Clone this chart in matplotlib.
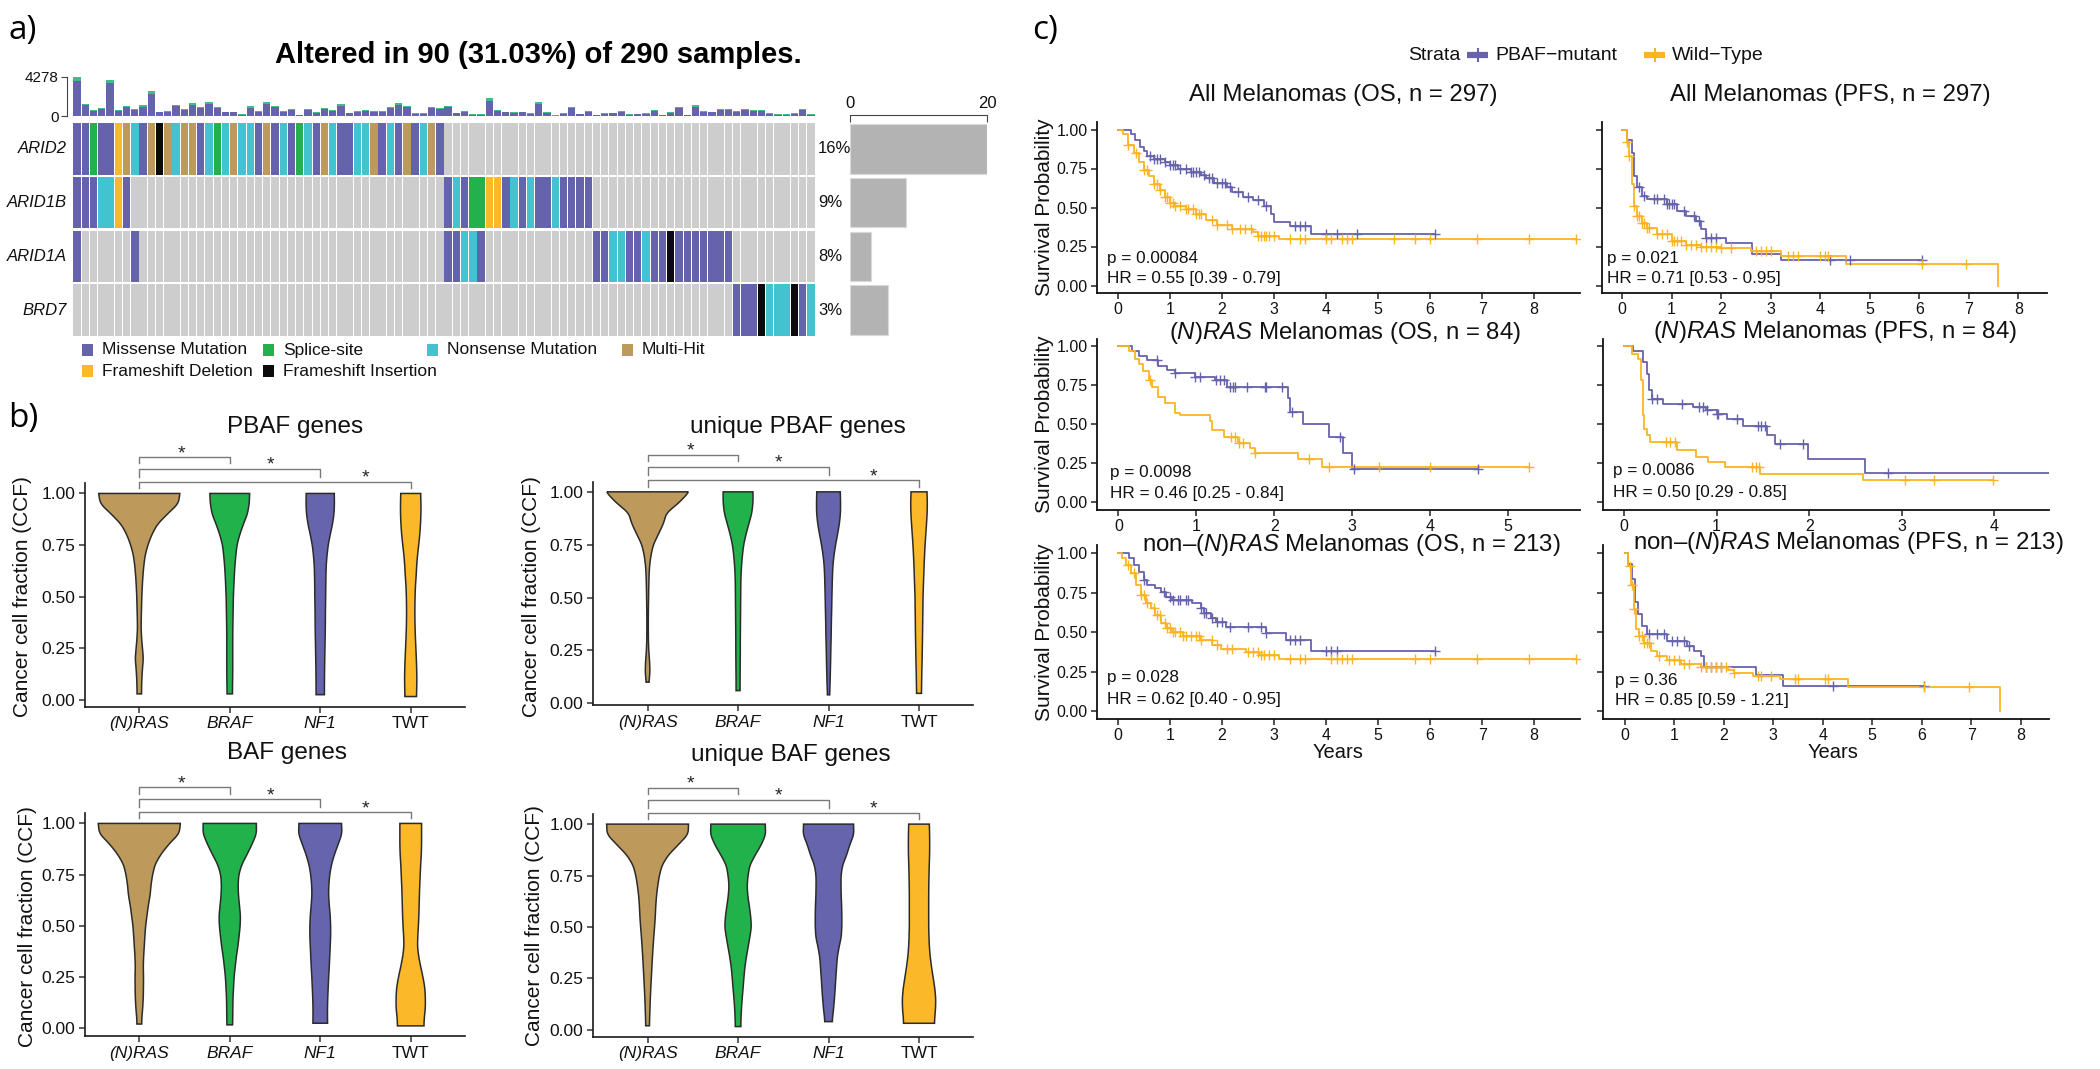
import numpy as np
import matplotlib
matplotlib.use('Agg')
import matplotlib.pyplot as plt
from matplotlib.lines import Line2D
from matplotlib.patches import Rectangle

plt.rcParams['font.family'] = ['Liberation Sans', 'DejaVu Sans']
plt.rcParams['mathtext.fontset'] = 'custom'
plt.rcParams['mathtext.rm'] = 'Liberation Sans'
plt.rcParams['mathtext.it'] = 'Liberation Sans:italic'
plt.rcParams['mathtext.bf'] = 'Liberation Sans:bold'

# ------------------------------------------------------------------ data: panel a
GENES = ['ARID2', 'ARID1B', 'ARID1A', 'BRD7']
GENE_PCT = ['16%', '9%', '8%', '3%']
GENE_BAR = [20, 8.2, 3.0, 5.5]
MUT_ARID2 = "MMSMMDHNMHIHNHHMNSNHNNMHMNMSNMHNMMNNHMNMHMNHM" + "." * 45
MUT_ARID1B = "MMMNNDM" + "." * 38 + "MNMSSDDMNMNMMNMMMM" + "." * 27
MUT_ARID1A = "M......M" + "." * 37 + "MMNNM" + "." * 13 + "MMNNMMNMMIMMMMMMM" + "." * 10
MUT_BRD7 = "." * 80 + "MMMINNNIMN"
MUT_COLORS = {'M': '#6663AD', 'S': '#23B14D', 'N': '#43C2CF', 'H': '#BD9A5C',
              'D': '#FBB829', 'I': '#0B0B0B', '.': '#CDCDCD'}
MUT_LEGEND = [('M', 'Missense Mutation'), ('S', 'Splice-site'), ('N', 'Nonsense Mutation'),
              ('H', 'Multi-Hit'), ('D', 'Frameshift Deletion'), ('I', 'Frameshift Insertion')]
TMB = [4278, 1305, 650, 830, 3990, 650, 1090, 800, 1160, 2720,
       470, 540, 1200, 800, 1380, 940, 1490, 1015, 470, 470,
       220, 1050, 540, 1520, 1090, 510, 725, 110, 800, 435,
       830, 615, 1270, 360, 580, 650, 580, 580, 1015, 1380,
       1090, 325, 325, 1015, 870, 1090, 360, 540, 180, 220,
       1920, 650, 470, 400, 470, 290, 1520, 400, 70, 290,
       940, 250, 540, 145, 290, 360, 510, 220, 250, 290,
       690, 110, 435, 1015, 110, 1160, 580, 470, 760, 725,
       580, 725, 615, 615, 325, 220, 220, 290, 760, 180]
TMB_CAP = [400, 150, 100, 100, 330, 100, 120, 100, 120, 300,
           80, 90, 130, 100, 180, 110, 180, 120, 80, 80,
           60, 120, 90, 180, 120, 80, 100, 50, 100, 80,
           100, 90, 150, 70, 90, 100, 90, 90, 120, 180,
           120, 70, 70, 120, 100, 120, 70, 90, 50, 60,
           250, 100, 80, 80, 80, 60, 200, 80, 40, 60,
           110, 60, 90, 50, 60, 70, 80, 60, 60, 60,
           90, 50, 80, 120, 50, 130, 90, 80, 100, 90,
           90, 90, 90, 90, 70, 60, 60, 60, 100, 50]

# ------------------------------------------------------------------ data: panel b
VIOLIN_GROUPS = ['(N)RAS', 'BRAF', 'NF1', 'TWT']
VIOLIN_COLORS = ['#BD9A5B', '#22B24C', '#6664AD', '#FBB829']
CCF_GRID = [0.00, 0.05, 0.10, 0.15, 0.20, 0.25, 0.30, 0.35, 0.40, 0.45, 0.50,
            0.55, 0.60, 0.65, 0.70, 0.75, 0.80, 0.85, 0.90, 0.95, 1.00]

PBAF_MIN = [0.028, 0.028, 0.024, 0.015]
PBAF_W = [
    [.025, .025, .028, .035, .045, .035, .025, .02, .022, .025, .028, .033, .04, .05, .065, .095, .138, .2, .31, .43, .45],
    [.03, .03, .032, .033, .033, .033, .033, .034, .036, .038, .04, .045, .05, .057, .067, .08, .11, .15, .195, .215, .22],
    [.046, .046, .047, .048, .05, .052, .054, .056, .057, .058, .06, .061, .063, .066, .075, .088, .11, .135, .152, .157, .155],
    [.063, .066, .068, .066, .062, .057, .052, .048, .046, .046, .048, .052, .06, .066, .075, .088, .1, .108, .113, .113, .11]]

UPBAF_MIN = [0.10, 0.06, 0.04, 0.047]
UPBAF_W = [
    [.015, .015, .016, .026, .022, .013, .009, .008, .008, .009, .011, .013, .016, .022, .037, .064, .12, .175, .21, .35, .46],
    [.022, .022, .022, .023, .024, .025, .025, .026, .027, .028, .029, .03, .032, .038, .048, .062, .088, .12, .152, .165, .165],
    [.012, .013, .017, .02, .023, .025, .028, .03, .032, .035, .037, .04, .043, .048, .06, .078, .1, .12, .132, .133, .13],
    [.027, .027, .029, .031, .034, .036, .038, .04, .041, .043, .044, .048, .052, .056, .061, .067, .075, .083, .09, .092, .088]]

BAF_MIN = [0.02, 0.016, 0.024, 0.011]
BAF_W = [
    [.025, .028, .038, .044, .046, .047, .044, .048, .055, .062, .07, .085, .1, .12, .13, .147, .175, .24, .33, .44, .455],
    [.03, .033, .034, .036, .042, .048, .06, .073, .09, .103, .115, .118, .107, .096, .092, .1, .134, .193, .248, .295, .294],
    [.082, .08, .08, .083, .088, .093, .1, .105, .11, .115, .115, .11, .1, .092, .095, .105, .125, .158, .2, .24, .235],
    [.145, .15, .162, .162, .155, .135, .11, .088, .075, .078, .085, .09, .093, .096, .1, .105, .11, .117, .12, .12, .12]]

UBAF_MIN = [0.02, 0.016, 0.04, 0.032]
UBAF_W = [
    [.02, .022, .026, .03, .035, .041, .047, .053, .06, .068, .077, .085, .09, .098, .112, .13, .16, .23, .34, .447, .453],
    [.03, .032, .037, .045, .055, .064, .074, .09, .11, .13, .147, .14, .125, .108, .1, .11, .13, .19, .257, .305, .3],
    [.04, .042, .055, .065, .073, .08, .088, .096, .115, .14, .147, .147, .145, .14, .138, .138, .155, .2, .235, .28, .276],
    [.17, .172, .182, .185, .175, .158, .14, .125, .115, .11, .107, .107, .107, .107, .108, .11, .113, .117, .118, .117, .114]]

SIG_TARGETS = [2, 3, 4]
SIG_LEVELS = [1.176, 1.118, 1.055]
SIG_TIPS = [0.03, 0.04, 0.03]
SIG_STAR_X = [1.47, 2.45, 3.5]

# ------------------------------------------------------------------ data: panel c
MUT_COL = '#6762AC'
WT_COL = '#FCB424'

OS_ALL_MUT_T = [0, 0.24, 0.33, 0.42, 0.5, 0.55, 0.7, 0.9, 1.0, 1.15, 1.4, 1.6, 1.7, 1.85, 2.1, 2.2, 2.4, 2.6, 2.8, 2.95, 3.0, 3.3, 3.7]
OS_ALL_MUT_S = [1.0, 0.97, 0.93, 0.89, 0.86, 0.83, 0.81, 0.79, 0.77, 0.75, 0.73, 0.71, 0.69, 0.66, 0.63, 0.6, 0.57, 0.55, 0.51, 0.46, 0.41, 0.38, 0.33]
OS_ALL_MUT_C = [0.62, 0.7, 0.75, 0.8, 0.9, 1.0, 1.05, 1.1, 1.2, 1.3, 1.4, 1.45, 1.5, 1.55, 1.65, 1.75, 1.8, 1.9, 2.0, 2.05, 2.15, 2.3, 2.5, 2.7, 2.85, 3.4, 3.5, 3.6, 4.0, 4.2, 4.6, 6.1]
OS_ALL_WT_T = [0, 0.1, 0.2, 0.3, 0.4, 0.5, 0.6, 0.7, 0.8, 0.9, 1.0, 1.1, 1.3, 1.5, 1.7, 1.9, 2.2, 2.6, 2.7, 3.1]
OS_ALL_WT_S = [1.0, 0.97, 0.9, 0.85, 0.79, 0.74, 0.7, 0.65, 0.61, 0.57, 0.53, 0.51, 0.49, 0.46, 0.42, 0.39, 0.36, 0.34, 0.32, 0.30]
OS_ALL_WT_C = [0.2, 0.35, 0.5, 0.55, 0.7, 0.75, 0.8, 0.9, 0.95, 1.0, 1.05, 1.1, 1.2, 1.3, 1.35, 1.45, 1.5, 1.55, 1.6, 1.8, 1.9, 2.1, 2.2, 2.35, 2.45, 2.55, 2.7, 2.75, 2.8, 2.85, 2.9, 3.0, 3.3, 3.5, 3.6, 4.0, 4.1, 4.3, 4.4, 4.5, 5.3, 5.7, 6.0, 6.9, 7.9, 8.8]

PFS_ALL_MUT_T = [0, 0.1, 0.2, 0.25, 0.3, 0.4, 0.5, 0.9, 1.1, 1.3, 1.5, 1.6, 1.7, 2.1, 2.62, 3.2]
PFS_ALL_MUT_S = [1.0, 0.93, 0.85, 0.7, 0.63, 0.575, 0.553, 0.52, 0.48, 0.445, 0.413, 0.36, 0.305, 0.273, 0.2, 0.166]
PFS_ALL_MUT_C = [0.35, 0.45, 0.65, 0.7, 0.85, 0.9, 0.95, 1.0, 1.05, 1.25, 1.45, 1.55, 1.7, 1.8, 1.9, 4.2, 4.6, 6.05]
PFS_ALL_WT_T = [0, 0.1, 0.15, 0.2, 0.25, 0.3, 0.4, 0.5, 0.7, 1.0, 1.3, 1.6, 2.0, 2.6, 3.2, 4.52, 7.58]
PFS_ALL_WT_S = [1.0, 0.92, 0.83, 0.65, 0.51, 0.445, 0.40, 0.37, 0.327, 0.284, 0.262, 0.25, 0.24, 0.22, 0.19, 0.138, 0.0]
PFS_ALL_WT_C = [0.1, 0.15, 0.25, 0.3, 0.35, 0.4, 0.45, 0.5, 0.55, 0.7, 0.8, 0.9, 1.0, 1.05, 1.1, 1.2, 1.3, 1.4, 1.5, 1.6, 1.7, 1.8, 1.9, 2.0, 2.2, 2.7, 2.8, 2.9, 3.0, 3.35, 3.45, 3.55, 4.0, 4.1, 4.15, 6.05, 6.95]

OS_NRAS_MUT_T = [0, 0.17, 0.26, 0.36, 0.51, 0.62, 0.73, 0.98, 1.24, 1.39, 2.18, 2.2, 2.37, 2.7, 2.89, 3.0]
OS_NRAS_MUT_S = [1.0, 0.97, 0.94, 0.91, 0.87, 0.85, 0.83, 0.80, 0.78, 0.74, 0.67, 0.58, 0.5, 0.414, 0.315, 0.208]
OS_NRAS_MUT_C = [0.5, 0.73, 0.98, 1.05, 1.25, 1.3, 1.35, 1.43, 1.47, 1.5, 1.65, 1.88, 1.9, 2.1, 2.23, 2.85, 3.02, 4.62]
OS_NRAS_WT_T = [0, 0.14, 0.21, 0.26, 0.32, 0.39, 0.43, 0.51, 0.6, 0.73, 0.79, 1.18, 1.2, 1.35, 1.54, 1.69, 1.75, 2.31, 2.61]
OS_NRAS_WT_S = [1.0, 0.97, 0.92, 0.885, 0.84, 0.78, 0.74, 0.675, 0.632, 0.572, 0.557, 0.52, 0.46, 0.418, 0.375, 0.343, 0.315, 0.272, 0.225]
OS_NRAS_WT_C = [0.4, 1.45, 1.5, 1.55, 1.6, 1.75, 2.45, 2.7, 3.35, 4.0, 5.28]

PFS_NRAS_MUT_T = [0, 0.1, 0.2, 0.25, 0.27, 0.3, 0.42, 0.75, 0.89, 1.0, 1.11, 1.29, 1.54, 1.63, 1.99, 2.6]
PFS_NRAS_MUT_S = [1.0, 0.97, 0.9, 0.82, 0.72, 0.66, 0.63, 0.609, 0.588, 0.566, 0.534, 0.49, 0.427, 0.374, 0.278, 0.186]
PFS_NRAS_MUT_C = [0.3, 0.36, 0.63, 0.81, 0.85, 0.9, 1.0, 1.02, 1.22, 1.45, 1.48, 1.52, 1.68, 1.93, 2.85, 4.7]
PFS_NRAS_WT_T = [0, 0.09, 0.15, 0.18, 0.2, 0.22, 0.245, 0.28, 0.57, 0.78, 0.91, 1.09, 1.47, 2.58]
PFS_NRAS_WT_S = [1.0, 0.95, 0.92, 0.78, 0.56, 0.47, 0.427, 0.385, 0.33, 0.288, 0.256, 0.224, 0.18, 0.139]
PFS_NRAS_WT_C = [0.45, 0.5, 0.55, 1.38, 1.43, 1.46, 3.03, 3.35, 3.99]

OS_NON_MUT_T = [0, 0.21, 0.31, 0.4, 0.5, 0.56, 0.72, 0.82, 0.92, 1.04, 1.43, 1.59, 1.65, 1.78, 1.88, 2.07, 2.84, 3.22, 3.7]
OS_NON_MUT_S = [1.0, 0.968, 0.926, 0.884, 0.83, 0.80, 0.778, 0.757, 0.725, 0.704, 0.683, 0.651, 0.62, 0.588, 0.567, 0.535, 0.493, 0.45, 0.383]
OS_NON_MUT_C = [0.5, 0.88, 1.0, 1.05, 1.15, 1.2, 1.3, 1.35, 1.6, 1.65, 1.7, 1.8, 1.9, 2.0, 2.15, 2.5, 2.75, 2.85, 3.3, 3.4, 3.5, 4.0, 4.1, 4.2, 6.1]
OS_NON_WT_T = [0, 0.08, 0.16, 0.24, 0.34, 0.44, 0.53, 0.63, 0.72, 0.82, 0.92, 1.04, 1.24, 1.59, 1.81, 1.97, 2.46, 2.71, 3.1]
OS_NON_WT_S = [1.0, 0.968, 0.926, 0.873, 0.8, 0.736, 0.683, 0.651, 0.609, 0.556, 0.524, 0.503, 0.476, 0.45, 0.419, 0.391, 0.376, 0.355, 0.328]
OS_NON_WT_C = [0.2, 0.3, 0.45, 0.5, 0.55, 0.7, 0.75, 0.8, 0.9, 0.95, 1.0, 1.05, 1.1, 1.2, 1.25, 1.3, 1.4, 1.5, 1.55, 1.6, 1.8, 1.9, 2.1, 2.2, 2.5, 2.6, 2.7, 2.75, 2.8, 2.9, 3.0, 3.3, 3.5, 3.6, 4.1, 4.2, 4.3, 4.4, 4.5, 5.7, 6.0, 6.9, 7.9, 8.8]

PFS_NON_MUT_T = [0, 0.07, 0.155, 0.22, 0.27, 0.36, 0.46, 0.86, 1.27, 1.4, 1.54, 1.61, 2.65, 3.19]
PFS_NON_MUT_S = [1.0, 0.93, 0.84, 0.69, 0.616, 0.54, 0.486, 0.443, 0.41, 0.378, 0.346, 0.281, 0.227, 0.156]
PFS_NON_MUT_C = [0.5, 0.65, 0.8, 0.95, 1.05, 1.2, 1.3, 1.65, 1.75, 1.85, 1.95, 4.2, 6.05]
PFS_NON_WT_T = [0, 0.07, 0.135, 0.19, 0.24, 0.29, 0.39, 0.53, 0.66, 0.86, 1.13, 1.54, 2.08, 2.2, 2.59, 3.13, 4.51, 7.58]
PFS_NON_WT_S = [1.0, 0.918, 0.8, 0.648, 0.518, 0.475, 0.432, 0.378, 0.346, 0.324, 0.298, 0.281, 0.259, 0.242, 0.222, 0.2, 0.151, 0.0]
PFS_NON_WT_C = [0.1, 0.15, 0.2, 0.3, 0.35, 0.4, 0.45, 0.5, 0.7, 0.9, 1.0, 1.1, 1.2, 1.3, 1.55, 1.65, 1.75, 1.85, 1.95, 2.05, 2.2, 2.7, 2.75, 2.95, 3.45, 3.5, 4.05, 4.1, 6.05, 6.95]

KM_PVALS = ['p = 0.00084', 'p = 0.021', 'p = 0.0098', 'p = 0.0086', 'p = 0.028', 'p = 0.36']
KM_HRS = ['HR = 0.55 [0.39 - 0.79]', 'HR = 0.71 [0.53 - 0.95]', 'HR = 0.46 [0.25 - 0.84]',
          'HR = 0.50 [0.29 - 0.85]', 'HR = 0.62 [0.40 - 0.95]', 'HR = 0.85 [0.59 - 1.21]']
KM_TITLES = ['All Melanomas (OS, n = 297)', 'All Melanomas (PFS, n = 297)',
             r'$\mathit{(N)RAS}$ Melanomas (OS, n = 84)', r'$\mathit{(N)RAS}$ Melanomas (PFS, n = 84)',
             'non\u2013' + r'$\mathit{(N)RAS}$ Melanomas (OS, n = 213)',
             'non\u2013' + r'$\mathit{(N)RAS}$ Melanomas (PFS, n = 213)']

# ------------------------------------------------------------------ figure
W, H = 2100, 1069
fig = plt.figure(figsize=(W / 100, H / 100), dpi=100)


def box(x0, y0, x1, y1):
    return [x0 / W, 1 - y1 / H, (x1 - x0) / W, (y1 - y0) / H]


def ftext(x, y, s, **kw):
    return fig.text(x / W, 1 - y / H, s, **kw)


TXT = '#111111'

# panel labels
for lbl, (lx, ly) in zip(['a)', 'b)', 'c)'], [(8, 30), (8, 418), (1032, 30)]):
    ftext(lx, ly, lbl, fontsize=24, va='center', ha='left', family=['Open Sans', 'DejaVu Sans'])

# ------------------------------------------------------------------ panel a
ftext(538, 55, 'Altered in 90 (31.03%) of 290 samples.', ha='center', va='center',
      fontsize=21, fontweight='bold', color='black')

ncol = len(TMB)
xs = np.arange(ncol)
ax_top = fig.add_axes(box(73, 77, 815, 116))
purple_part = np.array(TMB) - np.array(TMB_CAP)
ax_top.bar(xs, purple_part, width=0.88, color=MUT_COLORS['M'], linewidth=0)
ax_top.bar(xs, TMB_CAP, bottom=purple_part, width=0.88, color='#3DBE85', linewidth=0)
ax_top.set_xlim(-0.5, ncol - 0.5)
ax_top.set_ylim(0, 4278)
for s in ['top', 'right', 'bottom']:
    ax_top.spines[s].set_visible(False)
ax_top.spines['left'].set_position(('outward', 4.3))
ax_top.spines['left'].set_color('#444444')
ax_top.set_yticks([0, 4278])
ax_top.set_yticklabels(['0', '4278'], fontsize=11, color=TXT)
ax_top.tick_params(axis='y', length=4, color='#444444', pad=2)
ax_top.set_xticks([])
ax_top.patch.set_alpha(0)

ax_grid = fig.add_axes(box(73, 122, 815, 337))
for r, muts in enumerate([MUT_ARID2, MUT_ARID1B, MUT_ARID1A, MUT_BRD7]):
    cols = [MUT_COLORS[c] for c in muts]
    ax_grid.bar(xs, 0.96, bottom=r - 0.48, width=0.9, color=cols, linewidth=0)
ax_grid.set_xlim(-0.5, ncol - 0.5)
ax_grid.set_ylim(3.5, -0.5)
ax_grid.axis('off')

row_h = (337 - 122) / 4
for r, (g, p) in enumerate(zip(GENES, GENE_PCT)):
    yc = 122 + (r + 0.5) * row_h
    ftext(67, yc, g, ha='right', va='center', fontsize=12, style='italic', color=TXT)
    ftext(818, yc, p, ha='left', va='center', fontsize=12, color=TXT)

ax_side = fig.add_axes(box(850, 122, 987, 337))
ax_side.barh(np.arange(4), GENE_BAR, height=0.92, color='#B3B3B3', edgecolor='#D9D9D9', linewidth=0.8)
ax_side.set_ylim(3.5, -0.5)
ax_side.set_xlim(0, 20)
for s in ['left', 'right', 'bottom']:
    ax_side.spines[s].set_visible(False)
ax_side.spines['top'].set_position(('outward', 5))
ax_side.spines['top'].set_color('#444444')
ax_side.xaxis.tick_top()
ax_side.set_xticks([0, 20])
ax_side.set_xticklabels(['0', '20'], fontsize=12, color=TXT)
ax_side.tick_params(axis='x', direction='in', length=5, color='#444444', pad=3)
ax_side.set_yticks([])
ax_side.patch.set_alpha(0)

legend_pos = [(81.7, 350), (262.7, 350), (426.7, 350), (621.7, 350), (81.7, 371), (262.7, 371)]
for (code, name), (lx, ly) in zip(MUT_LEGEND, legend_pos):
    sq = 11.5
    fig.add_artist(Rectangle((lx / W, 1 - (ly + sq / 2) / H), sq / W, sq / H,
                             transform=fig.transFigure, facecolor=MUT_COLORS[code], edgecolor='none'))
    ftext(lx + 20, ly, name, ha='left', va='center', fontsize=12.5, color=TXT)

# ------------------------------------------------------------------ panel b


def draw_violin(ax, center, ymin, widths, color):
    ys = np.linspace(ymin, 1.0, 300)
    w = np.interp(ys, CCF_GRID, widths)
    k = 6
    pad = np.r_[np.full(k, w[0]), w, np.full(k, w[-1])]
    ker = np.ones(2 * k + 1) / (2 * k + 1)
    ws = np.convolve(pad, ker, mode='same')[k:-k]
    px = np.r_[center + ws, (center - ws)[::-1]]
    py = np.r_[ys, ys[::-1]]
    ax.fill(px, py, facecolor=color, edgecolor='#2b2b2b', linewidth=1.1, zorder=2)


def violin_panel(bx, title, title_xy, ylab_xy, mins, widths):
    ax = fig.add_axes(box(*bx))
    lo = min(mins)
    ax.set_ylim(lo - 0.05 * (1 - lo), 1 + 0.05 * (1 - lo))
    ax.set_xlim(0.4, 4.6)
    for i in range(4):
        draw_violin(ax, i + 1, mins[i], widths[i], VIOLIN_COLORS[i])
    for tgt, lev, tip, sx in zip(SIG_TARGETS, SIG_LEVELS, SIG_TIPS, SIG_STAR_X):
        ax.plot([1, 1, tgt, tgt], [lev - tip, lev, lev, lev - tip], color='#7a7a7a', lw=1.0,
                clip_on=False, zorder=3)
        ax.text(sx, lev - 0.004, '*', ha='center', va='baseline', fontsize=14, color='#222222',
                clip_on=False)
    for s in ['top', 'right']:
        ax.spines[s].set_visible(False)
    for s in ['left', 'bottom']:
        ax.spines[s].set_linewidth(1.2)
        ax.spines[s].set_color('#1a1a1a')
    ax.set_yticks([0, 0.25, 0.5, 0.75, 1.0])
    ax.set_yticklabels(['0.00', '0.25', '0.50', '0.75', '1.00'], fontsize=12.5, color=TXT)
    ax.set_xticks([1, 2, 3, 4])
    ax.set_xticklabels(VIOLIN_GROUPS, fontsize=12.5, color=TXT)
    for t in ax.get_xticklabels():
        if t.get_text() != 'TWT':
            t.set_style('italic')
    ax.tick_params(length=4, width=1.1, color='#333333', pad=3)
    ax.patch.set_alpha(0)
    ftext(title_xy[0], title_xy[1], title, ha='center', va='center', fontsize=17.5, color=TXT)
    ftext(ylab_xy[0], ylab_xy[1], 'Cancer cell fraction (CCF)', ha='center', va='center',
          rotation=90, fontsize=15, color=TXT)
    return ax


violin_panel((85, 483.3, 465, 706.7), 'PBAF genes', (295, 427), (22.7, 597), PBAF_MIN, PBAF_W)
violin_panel((593.3, 481.7, 973.3, 705), 'unique PBAF genes', (797.7, 427), (531.7, 597), UPBAF_MIN, UPBAF_W)
violin_panel((85, 813.3, 465, 1036), 'BAF genes', (287, 753), (27.3, 927), BAF_MIN, BAF_W)
violin_panel((593.3, 814, 973.3, 1036.7), 'unique BAF genes', (791, 755), (535, 926), UBAF_MIN, UBAF_W)

# ------------------------------------------------------------------ panel c


def km_curve(ax, T, S, C, color):
    T = np.asarray(T, float)
    S = np.asarray(S, float)
    C = np.asarray(C, float)
    tend = max(T[-1], C.max())
    ax.step(np.r_[T, tend], np.r_[S, S[-1]], where='post', color=color, lw=1.3, zorder=3)
    idx = np.searchsorted(T, C, side='right') - 1
    ax.plot(C, S[idx], linestyle='none', marker='+', color=color, ms=7, mew=1.0, zorder=4)


def km_panel(bx, xlim, xmax_tick, curves, ylabels, ptxt, hrtxt, p_xy, hr_xy, title, title_xy):
    ax = fig.add_axes(box(*bx))
    for (T, S, C, col) in curves:
        km_curve(ax, T, S, C, col)
    ax.set_xlim(*xlim)
    ax.set_ylim(-0.05, 1.05)
    for s in ['top', 'right']:
        ax.spines[s].set_visible(False)
    for s in ['left', 'bottom']:
        ax.spines[s].set_linewidth(1.3)
        ax.spines[s].set_color('#111111')
    ax.set_xticks(list(range(0, xmax_tick + 1)))
    ax.set_xticklabels([str(v) for v in range(0, xmax_tick + 1)], fontsize=11.5, color=TXT)
    ax.set_yticks([0, 0.25, 0.5, 0.75, 1.0])
    if ylabels:
        ax.set_yticklabels(['0.00', '0.25', '0.50', '0.75', '1.00'], fontsize=11.5, color=TXT)
    else:
        ax.set_yticklabels([])
    ax.tick_params(length=4, width=1.1, color='#222222', pad=2.5)
    ax.patch.set_alpha(0)
    ftext(p_xy[0], p_xy[1], ptxt, ha='left', va='center', fontsize=12.3, color=TXT)
    ftext(hr_xy[0], hr_xy[1], hrtxt, ha='left', va='center', fontsize=12.3, color=TXT)
    ftext(title_xy[0], title_xy[1], title, ha='center', va='center', fontsize=17.3, color=TXT)
    return ax


km_panel((1096.7, 121.7, 1580, 293.3), (-0.41, 8.88), 8,
         [(OS_ALL_MUT_T, OS_ALL_MUT_S, OS_ALL_MUT_C, MUT_COL), (OS_ALL_WT_T, OS_ALL_WT_S, OS_ALL_WT_C, WT_COL)],
         True, KM_PVALS[0], KM_HRS[0], (1106.7, 258.3), (1106.7, 278.3), KM_TITLES[0], (1343, 95))
km_panel((1601.7, 121.7, 2046.7, 293.3), (-0.41, 8.57), 8,
         [(PFS_ALL_MUT_T, PFS_ALL_MUT_S, PFS_ALL_MUT_C, MUT_COL), (PFS_ALL_WT_T, PFS_ALL_WT_S, PFS_ALL_WT_C, WT_COL)],
         False, KM_PVALS[1], KM_HRS[1], (1606.7, 258.3), (1606.7, 278.3), KM_TITLES[1], (1830, 95))
km_panel((1096.7, 338.5, 1580, 509.5), (-0.28, 5.93), 5,
         [(OS_NRAS_MUT_T, OS_NRAS_MUT_S, OS_NRAS_MUT_C, MUT_COL), (OS_NRAS_WT_T, OS_NRAS_WT_S, OS_NRAS_WT_C, WT_COL)],
         True, KM_PVALS[2], KM_HRS[2], (1110, 472.7), (1110, 493.3), KM_TITLES[2], (1345, 333))
km_panel((1602.7, 338.5, 2049, 509.5), (-0.23, 4.59), 4,
         [(PFS_NRAS_MUT_T, PFS_NRAS_MUT_S, PFS_NRAS_MUT_C, MUT_COL), (PFS_NRAS_WT_T, PFS_NRAS_WT_S, PFS_NRAS_WT_C, WT_COL)],
         False, KM_PVALS[3], KM_HRS[3], (1612.7, 470.7), (1612.7, 492.7), KM_TITLES[3], (1835, 332))
km_panel((1096.7, 545.4, 1580, 718.9), (-0.41, 8.88), 8,
         [(OS_NON_MUT_T, OS_NON_MUT_S, OS_NON_MUT_C, MUT_COL), (OS_NON_WT_T, OS_NON_WT_S, OS_NON_WT_C, WT_COL)],
         True, KM_PVALS[4], KM_HRS[4], (1107.3, 677.7), (1107.3, 699.3), KM_TITLES[4], (1351, 545))
km_panel((1603.3, 545.4, 2049, 718.9), (-0.43, 8.57), 8,
         [(PFS_NON_MUT_T, PFS_NON_MUT_S, PFS_NON_MUT_C, MUT_COL), (PFS_NON_WT_T, PFS_NON_WT_S, PFS_NON_WT_C, WT_COL)],
         False, KM_PVALS[5], KM_HRS[5], (1615, 680), (1615, 700.7), KM_TITLES[5], (1848, 543))

for yc in [207, 424, 632]:
    ftext(1045, yc, 'Survival Probability', rotation=90, ha='center', va='center', fontsize=15, color=TXT)
ftext(1338, 753, 'Years', ha='center', va='center', fontsize=14.5, color=TXT)
ftext(1833, 752, 'Years', ha='center', va='center', fontsize=14.5, color=TXT)

# legend for panel c
ftext(1408, 55, 'Strata', ha='left', va='center', fontsize=14, color=TXT)
for (x0, x1, tx, col, name) in [(1467, 1488, 1495, MUT_COL, 'PBAF\u2212mutant'),
                                 (1644, 1665, 1672, WT_COL, 'Wild\u2212Type')]:
    yf = 1 - 55 / H
    fig.add_artist(Line2D([x0 / W, x1 / W], [yf, yf], transform=fig.transFigure, color=col, lw=4.5,
                          solid_capstyle='butt'))
    fig.add_artist(Line2D([(x0 + x1) / 2 / W], [yf], transform=fig.transFigure, color=col,
                          marker='+', ms=10, mew=1.5, linestyle='none'))
    ftext(tx, 55, name, ha='left', va='center', fontsize=14, color=TXT)

fig.savefig('out.png', dpi=100)
